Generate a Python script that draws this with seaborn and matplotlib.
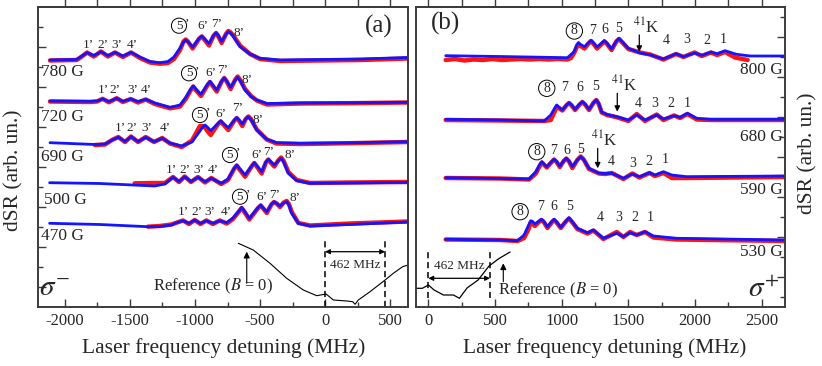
import numpy as np
import matplotlib
matplotlib.use('Agg')
import matplotlib.pyplot as plt
import seaborn as sns

sns.set_style('ticks')
plt.rcParams['font.family'] = ['Liberation Serif', 'DejaVu Serif']
plt.rcParams['mathtext.fontset'] = 'stix'
plt.rcParams['axes.unicode_minus'] = False

BLUE = '#1414ff'
RED = '#ff1414'
SPINE = '#3c3c3c'

# ---------------- panel (a): sigma- spectra ----------------
# fit (blue) and experiment (red), signal relative to each baseline
x_780 = [-2115, -1910, -1870, -1830, -1778, -1723, -1670, -1615, -1555, -1492, -1423, -1346, -1270,
         -1208, -1162, -1115, -1088, -1072, -1055, -1018, -970, -948, -928, -892, -858, -838, -820,
         -795, -762, -744, -730, -708, -654, -577, -500, -346, -38, 270, 638]
fit_780 = [0, 0.5, 4, 7.3, 4.5, 8.3, 4.5, 7.7, 4, 7.7, 3, -1.5, -2.7, -1.5, 3, 12, 18, 20, 18.5, 13,
           21.5, 24, 21.5, 16.5, 24.5, 27.3, 24.5, 18.5, 25.5, 28.3, 27.5, 24, 13.3, 6, 1.7, 0, 0.5,
           1, 2.5]
exp_780 = [-0.5, 0, 3.5, 7.5, 3.5, 8.5, 3.5, 7.5, 3, 7.5, 2, -2.5, -3.7, -3, 1, 10, 18.5, 20.5, 18.5,
           11.5, 21, 23.5, 20.5, 14.5, 24, 27, 23.5, 17, 26, 29, 28, 25, 14.5, 6, 1, -1, -0.5, 0, 1.5]

x_720 = [-2115, -1808, -1754, -1710, -1662, -1602, -1554, -1495, -1438, -1379, -1308, -1192, -1115,
         -1069, -1030, -1013, -997, -954, -905, -885, -866, -833, -795, -775, -756, -726, -690, -672,
         -652, -615, -569, -525, -446, -192, 192, 638]
fit_720 = [1, 0.7, 1, 3, 0.5, 3.7, 0.7, 3, 0.5, 2.7, -1, -5.3, -3, 5, 13.5, 16, 13.5, 7.7, 17.5, 20.7,
           17.5, 12, 21, 24, 21, 14.7, 22, 24.7, 21, 12, 5.5, 2, -1.5, -1, -0.7, -0.3]
exp_720 = [0.5, 0, 0.5, 3.2, -0.3, 3.8, 0, 3, -0.5, 2.5, -2, -6.3, -4.5, 3.5, 12.5, 15.5, 12.5, 6,
           16.5, 20, 16.5, 10.5, 20.5, 24, 20.5, 13, 22.5, 25.5, 22, 13, 6, 1.5, -2.5, -1.5, -1.2, -0.5]

x_690 = [-2115, -1769, -1692, -1638, -1590, -1538, -1492, -1438, -1379, -1315, -1252, -1192, -1102,
         -1023, -962, -940, -923, -905, -879, -825, -802, -782, -744, -700, -679, -660, -636, -610,
         -590, -570, -525, -448, -372, -192, 192, 638]
fit_690 = [0.8, -1, -0.5, 3.5, 6.2, 2, 6.8, 2, 6.2, 1.8, 5.2, 0.5, -2.5, 1.5, 12.5, 16.5, 18.5, 16.5,
           12.8, 20, 22.8, 20, 15.8, 23, 25.8, 23.5, 19.5, 24.5, 26.8, 24, 13.5, 4.2, 0.8, 0.2, 0.7, 1.8]
xe_690 = x_690[1:]
exp_690 = [-1.5, -1, 3.5, 6.5, 1.5, 7, 1.5, 6.5, 1.5, 5.5, 0, -3.5, 3, 17.5, 17.5, 16, 12.5, 8.5, 19,
           22, 19, 13.5, 22.5, 25.5, 22.5, 17.5, 24.5, 27, 24.5, 14, 4, 0, -0.5, 0.3, 1.5]

x_500 = [-2118, -1731, -1310, -1231, -1169, -1123, -1079, -1031, -977, -923, -875, -798, -746, -700,
         -679, -660, -615, -565, -544, -525, -487, -455, -436, -418, -390, -360, -338, -318, -282,
         -218, -115, 192, 638]
fit_500 = [0.3, -0.5, -3, -1, 5.7, 1.5, 6.3, 1.5, 5.7, 1.3, 4.7, -0.3, 4, 14.5, 18, 15, 8, 17, 20.3,
           17.5, 11.3, 21, 23.7, 21.5, 18, 22, 24.7, 21, 9.7, 2.3, -0.3, 0, 0.7]
xe_500 = [-1464] + x_500[2:]
exp_500 = [-0.3, 0, 0, 6, 1, 6.5, 1, 6, 0.5, 5, -1, 3, 14, 17.5, 14, 6.3, 16.5, 20, 16.5, 9.5, 20.5,
           23.5, 20.5, 16.5, 22.5, 25.5, 22, 11, 3, 0, 0.5, 1]

x_470 = [-2118, -1731, -1362, -1269, -1182, -1138, -1092, -1046, -1002, -958, -913, -862, -810,
         -756, -708, -662, -641, -622, -582, -518, -495, -475, -448, -412, -392, -372, -346, -318,
         -295, -278, -256, -205, -115, 192, 638]
fit_470 = [-0.3, -1.5, -3.7, -3.5, -2, 0.5, 2.3, -0.3, 3, -0.3, 2.3, -0.3, 2.3, 0.3, 5, 12, 15.7,
           12.5, 4.7, 15, 18, 15, 11.3, 19, 21.3, 19.5, 17, 20, 21.3, 18, 9.7, -0.3, -3, -1.5, 1]
xe_470 = x_470[2:]
exp_470 = [-3.7, -3, -1.5, 0.5, 2.5, -1, 3, -1, 2.5, -1, 2.5, -0.5, 4, 11.5, 15, 11.5, 3.5, 14.5,
           17.5, 14.5, 10, 18.5, 21, 19.5, 16, 20.5, 22, 19, 11, 0, -2.5, -0.5, 1.5]

fields_a = ['780 G', '720 G', '690 G', '500 G', '470 G']
offsets_a = [247, 205, 163.5, 124, 84]

ref_x_a = [-667, -552, -423, -295, -167, -64, 8, 64, 167, 213, 231, 256, 346, 462, 525, 597, 638]
ref_y_a = [63.7, 57, 43.7, 28.7, 17, 11.3, 13, 7, 6, 5.3, 2.7, 7, 15.3, 27, 33.7, 40.3, 42]

# ---------------- panel (b): sigma+ spectra ----------------
x_800 = [130, 538, 1043, 1093, 1112, 1126, 1142, 1171, 1202, 1220, 1240, 1265, 1300, 1320, 1340,
         1374, 1410, 1430, 1452, 1500, 1588, 1663, 1763, 1858, 1913, 1997, 2051, 2120, 2165, 2225,
         2308, 2413, 2675]
fit_800 = [1.3, 0.5, -0.7, 5.3, 12, 14.5, 12.5, 10.3, 14.5, 16.7, 14, 10, 14, 16.5, 14, 8, 16, 18.7,
           15.5, 8.7, 4, 2.2, -2, 3.3, 0.3, 4, 1.7, 5, 3.3, 6.3, 2.8, 1, 1]
xe_800 = [130, 200, 270, 340, 410, 480, 550, 620, 690, 760, 830, 900, 970, 1043, 1070, 1093, 1112,
          1126, 1142, 1171, 1202, 1220, 1240, 1265, 1300, 1320, 1340, 1374, 1410, 1430, 1452, 1500,
          1588, 1663, 1763, 1858, 1913, 1997, 2051, 2120, 2165, 2225, 2300, 2395]
exp_800 = [-3, -2, -3.5, -2.5, -3, -2, -3, -2.5, -2, -2.5, -2, -2.5, -2, -2.5, -1, 4, 9.5, 12.5, 11,
           8.5, 13.5, 16, 13, 8.5, 13, 15.5, 13, 7, 15.5, 18, 15, 8, 4.5, 2.5, -2.5, 3, 0, 4.5, 1,
           4.5, 2, 5, -0.5, -3]

x_680 = [130, 538, 868, 918, 948, 963, 978, 1005, 1035, 1055, 1075, 1100, 1135, 1155, 1175, 1205,
         1240, 1260, 1278, 1300, 1340, 1413, 1500, 1563, 1625, 1713, 1763, 1843, 1888, 1943, 2013,
         2113, 2675]
fit_680 = [0.2, -0.5, -1.5, 4.5, 11.5, 14.5, 12.5, 9.5, 14.5, 16.8, 14.5, 10.2, 15.5, 17.8, 15.5,
           10.2, 17, 19.5, 16, 7.5, 5, 2.8, -0.5, 4.5, -0.5, 4.5, 0.5, 3.8, 2.2, 6.2, 1.2, 0.2, 0.2]
exp_680 = [-0.5, -1, -1.5, -0.5, 8, 13, 11.5, 9, 14, 16.5, 14, 9.5, 15, 17.5, 15, 9.5, 17, 19.5, 15.5,
           7, 4.5, 2.3, -1.5, 5.5, -1.5, 5, -0.5, 4, 1.5, 5.5, 0, -0.5, -0.5]

x_590 = [130, 538, 755, 806, 835, 851, 866, 888, 925, 943, 962, 986, 1015, 1035, 1055, 1080, 1120,
         1143, 1165, 1205, 1280, 1325, 1376, 1463, 1530, 1583, 1658, 1700, 1763, 1826, 1938, 2675]
fit_590 = [0.3, -0.5, -1, 6.3, 13.5, 16.3, 14, 11.3, 16.5, 18.7, 16.5, 12, 17, 19.7, 17, 11.3, 18.5,
           21.3, 18.5, 9.7, 4.7, 4.5, 4.7, -0.3, 4, 1.3, 5.3, 3, 6.3, 3, 1.3, 2]
exp_590 = [0, -0.5, -1.5, 4.5, 12, 15.5, 13.5, 10.5, 16, 18.5, 16, 11, 17, 19.5, 16.5, 10, 18.5, 21.5,
           18.5, 9, 4.5, 4, 5, -1, 4.5, 0.5, 5, 2, 5, 0, 0, 1]

x_530 = [130, 538, 668, 718, 752, 768, 782, 798, 830, 848, 866, 893, 925, 943, 962, 993, 1035, 1055,
         1075, 1118, 1193, 1238, 1313, 1413, 1463, 1513, 1563, 1625, 1688, 1863, 2675]
fit_530 = [0.7, 0, -0.7, 5, 15, 19.3, 18.5, 16, 19, 20.7, 18.5, 13.3, 18.5, 20.7, 18, 12.7, 19.5,
           22.3, 19, 11.7, 7.3, 10, 1.7, 6.7, 3.3, 7.3, 5, 8.3, 4, 1.7, 0]
exp_530 = [0.5, 0, -1, 2, 11, 17.5, 16.5, 14, 18, 20, 18, 12, 17.5, 20, 17.5, 12, 19, 21.5, 18.5, 11,
           6.5, 9.5, 1, 8, 3, 8, 5, 8, 2.5, 0.5, -1]

fields_b = ['800 G', '680 G', '590 G', '530 G']
offsets_b = [250, 187.5, 129, 67]

ref_x_b = [-95, -45, 0, 43, 113, 188, 233, 290, 373, 455, 530, 613]
ref_y_b = [18.7, 18.7, 22, 17, 12, 12, 8.7, 19, 27, 41, 48.5, 55]

# peak labels (text, x, y) and circled peak positions
labels_a = [
    [('1’', -1818, 262), ('2’', -1708, 262), ('3’', -1602, 262), ('4’', -1485, 262),
     ('6’', -938, 281), ('7’', -831, 283), ('8’', -662, 273.7)],
    [('1’', -1705, 217), ('2’', -1615, 217), ('3’', -1479, 217), ('4’', -1372, 217),
     ('6’', -879, 233.7), ('7’', -790, 237), ('8’', -602, 227)],
    [('1’', -1572, 178.7), ('2’', -1487, 178.7), ('3’', -1372, 178.7), ('4’', -1225, 178.7),
     ('6’', -800, 192.7), ('7’', -672, 198.7), ('8’', -513, 187)],
    [('1’', -1179, 137), ('2’', -1077, 137), ('3’', -969, 137), ('4’', -859, 137),
     ('6’', -525, 152), ('7’', -436, 155), ('8’', -269, 152)],
    [('1’', -1090, 95.3), ('2’', -987, 95.3), ('3’', -885, 95.3), ('4’', -756, 95.3),
     ('6’', -487, 110.3), ('7’', -385, 112), ('8’', -231, 109)],
]
circ_a = [(-1123, 281.3), (-1046, 233.7), (-962, 192), (-731, 152), (-654, 110.3)]

labels_b = [
    [('7', 1230, 276.3), ('6', 1320, 277.7), ('5', 1425, 278.7),
     ('4', 1788, 266.3), ('3', 1938, 267), ('2', 2088, 266.3), ('1', 2213, 267)],
    [('7', 1025, 219), ('6', 1133, 219), ('5', 1256, 220),
     ('4', 1571, 203), ('3', 1695, 203), ('2', 1818, 203), ('1', 1938, 203)],
    [('7', 938, 156), ('6', 1038, 156), ('5', 1145, 157),
     ('4', 1370, 145.3), ('3', 1530, 143.7), ('2', 1655, 145), ('1', 1775, 147)],
    [('7', 838, 100.3), ('6', 943, 100.3), ('5', 1058, 100.3),
     ('4', 1288, 89.3), ('3', 1425, 89.3), ('2', 1550, 89.3), ('1', 1663, 89.3)],
]
circ_b = [(1095, 276), (888, 218.7), (813, 155.3), (688, 95.3)]
k41_arrows = [(1582, 272, 255.3), (1417, 213.7, 195.3), (1270, 158.7, 138.7)]

fig = plt.figure(figsize=(8.22, 3.66), dpi=100)
axa = fig.add_axes([38.3 / 822, 59 / 366, 369.7 / 822, 300 / 366])
axb = fig.add_axes([415.7 / 822, 59 / 366, 369.3 / 822, 300 / 366])


def draw(ax, xe, ye, xf, yf, off):
    sns.lineplot(x=xe, y=np.array(ye) + off, ax=ax, color=RED, lw=3.2, sort=False,
                 solid_joinstyle='round')
    sns.lineplot(x=xf, y=np.array(yf) + off, ax=ax, color=BLUE, lw=2.0, sort=False,
                 solid_joinstyle='round')


spectra_a = [(x_780, exp_780, x_780, fit_780), (x_720, exp_720, x_720, fit_720),
             (xe_690, exp_690, x_690, fit_690), (xe_500, exp_500, x_500, fit_500),
             (xe_470, exp_470, x_470, fit_470)]
for (xe, ye, xf, yf), off in zip(spectra_a, offsets_a):
    draw(axa, xe, ye, xf, yf, off)

spectra_b = [(xe_800, exp_800, x_800, fit_800), (x_680, exp_680, x_680, fit_680),
             (x_590, exp_590, x_590, fit_590), (x_530, exp_530, x_530, fit_530)]
for (xe, ye, xf, yf), off in zip(spectra_b, offsets_b):
    draw(axb, xe, ye, xf, yf, off)

sns.lineplot(x=ref_x_a, y=ref_y_a, ax=axa, color='k', lw=0.8, sort=False)
sns.lineplot(x=ref_x_b, y=ref_y_b, ax=axb, color='k', lw=0.9, sort=False)

PK = 9.5
circ_box = dict(boxstyle='circle,pad=0.12', fc='none', ec='k', lw=0.7)
for labs, (cx, cy) in zip(labels_a, circ_a):
    for t, x, y in labs:
        axa.text(x, y, t, fontsize=PK, ha='center', va='center')
    axa.text(cx, cy, '5', fontsize=PK, ha='center', va='center', bbox=circ_box)
    axa.text(cx + 62, cy + 2, '’', fontsize=PK, ha='center', va='center')
for labs, (cx, cy) in zip(labels_b, circ_b):
    for t, x, y in labs:
        axb.text(x, y, t, fontsize=PK + 0.5, ha='center', va='center')
    axb.text(cx, cy, '8', fontsize=PK + 0.5, ha='center', va='center', bbox=circ_box)
for kx, ytop, ybot in k41_arrows:
    axb.annotate('', xy=(kx, ybot), xytext=(kx, ytop),
                 arrowprops=dict(arrowstyle='-|>', color='k', lw=0.9, mutation_scale=8,
                                 shrinkA=0, shrinkB=0))
    axb.text(kx - 48, ytop - 1, r'$^{41}$K', fontsize=12, ha='left', va='bottom')

# field labels
for f, y in zip(fields_a, [235.3, 190.3, 149.7, 107, 71]):
    axa.text(-2185 if f != '500 G' else -2160, y, f, fontsize=12.5, ha='left', va='center')
for f, y in zip(fields_b, [237, 170.3, 117, 55.3]):
    axb.text(2655, y, f, fontsize=12.5, ha='right', va='center')

axa.text(415, 281, '(a)', fontsize=18, ha='center', va='center')
axb.text(125, 284, '(b)', fontsize=18, ha='center', va='center')
axa.text(-2077, 18, r'$\sigma^{-}$', fontsize=21, ha='center', va='center')
axb.text(2518, 17, r'$\sigma^{+}$', fontsize=21, ha='center', va='center')

# reference markers
dash = (0, (4, 2.5))
axa.vlines([0, 462], 0, 67, colors='k', linestyles=dash, lw=1.1)
axa.annotate('', xy=(0, 55.3), xytext=(462, 55.3),
             arrowprops=dict(arrowstyle='<|-|>', color='k', lw=0.9, mutation_scale=7,
                             shrinkA=0, shrinkB=0))
axa.text(231, 42, '462 MHz', fontsize=9.5, ha='center', va='center')
axa.annotate('', xy=(-602, 55.3), xytext=(-602, 23.7),
             arrowprops=dict(arrowstyle='-|>', color='k', lw=0.8, mutation_scale=9,
                             shrinkA=0, shrinkB=0))
axa.text(-862, 20.3, r'Reference ($B$ = 0)', fontsize=12, ha='center', va='center')

axb.vlines([0, 462], 9, 55, colors='k', linestyles=dash, lw=1.1)
axb.annotate('', xy=(0, 28.7), xytext=(462, 28.7),
             arrowprops=dict(arrowstyle='<|-|>', color='k', lw=0.9, mutation_scale=7,
                             shrinkA=0, shrinkB=0))
axb.text(228, 41, '462 MHz', fontsize=9.5, ha='center', va='center')
axb.annotate('', xy=(562, 43.7), xytext=(562, 25.3),
             arrowprops=dict(arrowstyle='-|>', color='k', lw=0.8, mutation_scale=9,
                             shrinkA=0, shrinkB=0))
axb.text(523, 17, r'Reference ($B$ = 0)', fontsize=12, ha='left', va='center')

# axes styling
for ax, xlim, majors, side in [(axa, (-2205, 638), np.arange(-2000, 501, 500), 'left'),
                               (axb, (-95, 2675), np.arange(0, 2501, 500), 'right')]:
    ax.set_xticks(majors)
    ax.set_xticks(np.arange(majors[0] - 250, majors[-1] + 251, 250), minor=True)
    ax.set_xticklabels([str(v) for v in majors], fontsize=12)
    ax.set_yticks(np.arange(20, 281, 40) if side == 'left' else np.arange(30, 291, 40))
    ax.set_yticks(np.arange(40, 281, 40) if side == 'left' else np.arange(10, 291, 40), minor=True)
    ax.set_yticklabels([])
    ax.set_xlabel('')
    ax.set_ylabel('')
    ax.tick_params(axis='x', which='major', direction='in', length=6, width=1, color=SPINE, pad=4)
    ax.tick_params(axis='x', which='minor', direction='in', length=3.5, width=1, color=SPINE)
    ax.tick_params(axis='y', which='both', direction='in', width=1, color=SPINE,
                   left=(side == 'left'), right=(side == 'right'))
    ax.tick_params(axis='y', which='major', length=6)
    ax.tick_params(axis='y', which='minor', length=3.5)
    for s in ax.spines.values():
        s.set_visible(True)
        s.set_color(SPINE)
        s.set_linewidth(1.4)
    top = ax.secondary_xaxis('top')
    top.set_xticks(np.arange(majors[0], majors[-1] + 1, 250))
    top.set_xticklabels([])
    top.tick_params(direction='out', length=7, width=1, color=SPINE)
    top.spines['top'].set_color(SPINE)
    top.spines['top'].set_linewidth(1.4)
    # limits last: set_xticks may widen the view
    ax.set_xlim(*xlim)
    ax.set_ylim(0, 300)

fig.text(0.272, 0.049, 'Laser frequency detuning (MHz)', fontsize=15.5, ha='center', va='center')
fig.text(0.736, 0.049, 'Laser frequency detuning (MHz)', fontsize=15.5, ha='center', va='center')
fig.text(0.017, 0.535, 'dSR (arb. un.)', fontsize=15.5, rotation=90, ha='center', va='center')
fig.text(0.983, 0.58, 'dSR (arb. un.)', fontsize=15.5, rotation=90, ha='center', va='center')

fig.savefig('out.png', dpi=100)
